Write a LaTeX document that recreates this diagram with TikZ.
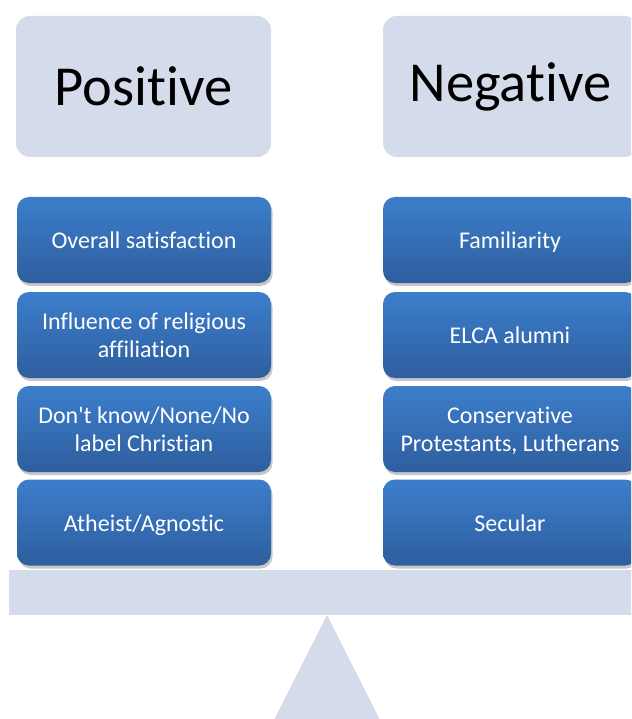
\documentclass[tikz,border=0pt]{standalone}
\usepackage{fontspec}
\setmainfont[Ligatures={NoCommon}]{Carlito}
\newfontfamily\calfont[Ligatures={NoCommon}]{Carlito}
\usetikzlibrary{shadows}
\newcommand\mytopstrut{\rule[-8.25pt]{0pt}{33.5pt}}
\definecolor{pale}{HTML}{D4DBEA}
\definecolor{btop}{HTML}{3C7ECC}
\definecolor{bbot}{HTML}{2E5E9E}
\tikzset{
  head/.style={rectangle, rounded corners=14pt, fill=pale, minimum width=255pt, minimum height=141pt, inner sep=0pt, font=\calfont\fontsize{56.5}{60}\selectfont, text=black},
  item/.style={rectangle, rounded corners=12pt, top color=btop, bottom color=bbot, minimum width=254pt, minimum height=86pt, inner sep=0pt, align=center, text=white, font=\calfont\fontsize{24}{27.5}\selectfont,
    execute at begin node=\mytopstrut, execute at end node=\strut,
    drop shadow={shadow xshift=1.5pt, shadow yshift=-3pt, opacity=0.22, fill=black}},
  base/.style={fill=pale, draw=none}
}
\begin{document}
\begin{tikzpicture}[x=1pt,y=-1pt]
\useasboundingbox (0,0) rectangle (631,719);
\clip (0,0) rectangle (631,719);
\fill[white] (0,0) rectangle (631,719);
\node[head] (pos) at (143.5,86.5) {Positive};
\node[head] (neg) at (510.5,86.5) {Negative};
\node[item] (l1) at (144,240) {Overall satisfaction};
\node[item] (l2) at (144,335) {\mytopstrut Influence of religious\\affiliation\strut};
\node[item] (l3) at (144,429) {\mytopstrut Don't know/None/No\\label Christian\strut};
\node[item] (l4) at (144,522.5) {Atheist/Agnostic};
\node[item] (r1) at (510,240) {Familiarity};
\node[item] (r2) at (510,335) {ELCA alumni};
\node[item] (r3) at (510,429) {\mytopstrut Conservative\\Protestants, Lutherans\strut};
\node[item] (r4) at (510,522.5) {Secular};
\fill[base] (9,570) rectangle (645,615);
\coordinate (apex) at (327,615);
\coordinate (bl) at (273,722);
\coordinate (br) at (381,722);
\fill[base] (apex) -- (bl) -- (br) -- cycle;
\end{tikzpicture}
\end{document}
